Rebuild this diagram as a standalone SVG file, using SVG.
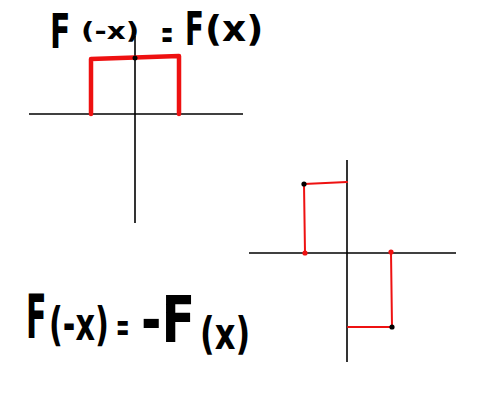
<svg xmlns="http://www.w3.org/2000/svg" width="500" height="400" viewBox="0 0 500 400">
<style>
.ax{stroke:#000;stroke-width:1.6;fill:none}
.red{stroke:#ee1111;fill:none;stroke-linecap:round;stroke-linejoin:round}
.hw{font-family:"DejaVu Sans",sans-serif;font-weight:bold;fill:#000}
</style>
<rect width="500" height="400" fill="#fff"/>
<g id="connectors">
<line class="ax" x1="29" y1="114" x2="243" y2="114"/>
<line class="ax" x1="135" y1="36" x2="135" y2="223"/>
<line class="ax" x1="249" y1="253" x2="456" y2="253"/>
<line class="ax" x1="347" y1="160" x2="347" y2="362"/>
</g>
<g id="even-pulse">
<path class="red" stroke-width="4.5" d="M91,114 L91,59 L179,56 L179,114"/>
<circle cx="135" cy="58" r="2.5" fill="#000"/>
</g>
<g id="odd-pulse">
<path class="red" stroke-width="2" d="M305,253 L304,184 L347,182"/>
<path class="red" stroke-width="2" d="M391,252 L392,327 L348,327"/>
<circle cx="304" cy="184" r="2.6" fill="#000"/>
<circle cx="305" cy="253" r="2.6" fill="#ee1111"/>
<circle cx="391" cy="252" r="2.6" fill="#ee1111"/>
<circle cx="392" cy="327" r="2.6" fill="#000"/>
</g>
<g id="label-even">
<text class="hw" font-size="48" transform="translate(50,48) scale(0.62,1)">F</text>
<text class="hw" font-size="23" transform="translate(81,39) scale(1.28,1)">(-x)</text>
<text class="hw" font-size="40" transform="translate(161,48) scale(0.36,1)">=</text>
<text class="hw" font-size="46" transform="translate(185,45) scale(0.6,1)">F</text>
<text class="hw" font-size="36" transform="translate(205,41) scale(1.04,1)">(x)</text>
</g>
<g id="label-odd">
<text class="hw" font-size="60" transform="translate(26,338) scale(0.5,1)">F</text>
<text class="hw" font-size="46" transform="translate(49,340) scale(0.66,1)">(-x)</text>
<text class="hw" font-size="40" transform="translate(116,341) scale(0.4,1)">=</text>
<text class="hw" font-size="64" transform="translate(141,342) scale(0.77,1)">-F</text>
<text class="hw" font-size="44" transform="translate(200,349) scale(0.73,1)">(x)</text>
</g>
</svg>
